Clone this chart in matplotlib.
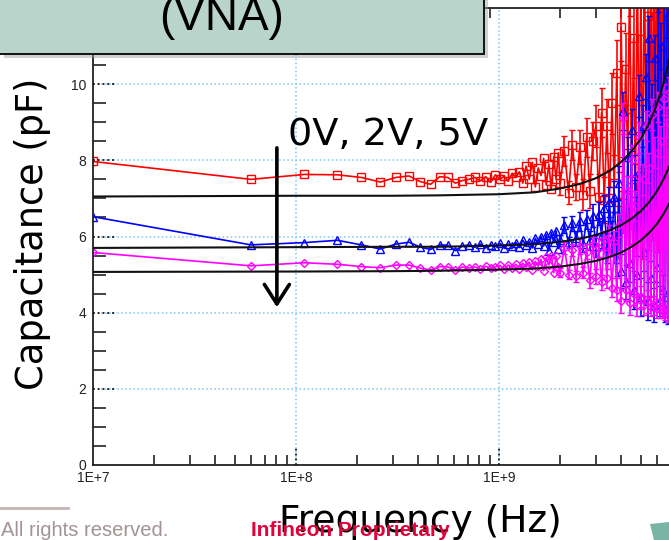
import numpy as np
import matplotlib
matplotlib.use('Agg')
import matplotlib.pyplot as plt
import matplotlib.transforms as mtransforms
from matplotlib.patches import Rectangle, Polygon
from matplotlib.ticker import MultipleLocator, LogLocator, NullFormatter

# VNA sweep: 50 MHz steps below 2 GHz, 100 MHz steps above (Hz)
freq_lo = np.arange(10, 2000, 50) * 1e6
freq_hi = np.arange(2000, 7000, 100) * 1e6
freq = np.concatenate([freq_lo, freq_hi])

# measured capacitance (pF), 0V / 2V / 5V
cap_0v = [7.97, 7.50, 7.63, 7.62, 7.55, 7.43, 7.55, 7.59, 7.44, 7.37,
          7.57, 7.55, 7.40, 7.47, 7.50, 7.55, 7.46, 7.57, 7.42, 7.62,
          7.50, 7.58, 7.45, 7.66, 7.55, 7.70, 7.40, 7.85, 7.50, 7.95,
          7.30, 7.80, 7.60, 8.05, 7.35, 7.90, 7.25, 8.10, 7.50, 8.20,
          7.40, 8.25, 7.15, 8.40, 7.30, 8.35, 7.10, 8.60, 7.20, 8.50,
          8.90, 7.05, 9.25, 6.95, 8.90, 7.00, 9.50, 7.40, 10.30, 6.90,
          11.50, 7.10, 10.40, 8.20, 12.80, 7.30, 11.20, 6.80, 13.50, 7.60,
          12.40, 6.60, 14.00, 7.80, 11.80, 6.90, 15.00, 7.20, 13.20, 8.00,
          16.00, 7.00, 14.50, 8.40, 17.00, 7.60, 15.50, 8.80, 18.00, 9.00]
cap_2v = [6.52, 5.78, 5.84, 5.90, 5.78, 5.67, 5.80, 5.85, 5.72, 5.66,
          5.78, 5.77, 5.63, 5.75, 5.78, 5.72, 5.80, 5.70, 5.78, 5.74,
          5.82, 5.70, 5.80, 5.75, 5.84, 5.72, 5.90, 5.78, 5.86, 5.70,
          5.95, 5.80, 6.00, 5.75, 6.05, 5.62, 6.10, 5.85, 6.15, 5.68,
          5.90, 6.30, 5.85, 6.35, 5.95, 6.40, 5.80, 6.45, 5.90, 6.55,
          5.75, 6.60, 6.05, 6.75, 5.70, 6.90, 5.95, 7.05, 5.40, 7.40,
          5.10, 9.30, 4.80, 8.10, 5.30, 8.80, 4.60, 7.60, 5.00, 9.70,
          4.40, 8.90, 5.60, 10.20, 4.30, 11.20, 4.90, 9.40, 4.20, 10.70,
          5.20, 12.50, 4.30, 11.00, 4.60, 13.00, 4.10, 11.80, 4.00, 13.50]
cap_5v = [5.58, 5.23, 5.31, 5.27, 5.21, 5.18, 5.25, 5.25, 5.17, 5.12,
          5.21, 5.20, 5.12, 5.20, 5.17, 5.20, 5.15, 5.22, 5.16, 5.20,
          5.24, 5.15, 5.25, 5.18, 5.27, 5.14, 5.30, 5.20, 5.33, 5.12,
          5.35, 5.22, 5.40, 5.10, 5.45, 5.25, 5.50, 5.05, 5.48, 5.20,
          5.05, 5.70, 5.00, 5.65, 4.95, 5.75, 5.05, 5.60, 4.85, 5.80,
          4.95, 5.70, 4.80, 5.90, 4.90, 6.00, 4.65, 5.85, 4.60, 6.30,
          4.30, 9.10, 4.60, 7.20, 4.25, 8.00, 4.50, 6.80, 4.20, 8.60,
          4.40, 7.50, 4.20, 8.90, 4.30, 7.80, 4.15, 9.20, 4.20, 8.20,
          4.10, 9.40, 4.10, 8.50, 4.05, 9.60, 4.00, 9.00, 3.95, 9.80]

# error bars on the >= 2 GHz points (pF)
err_0v = [0.30, 0.40, 0.30, 0.40, 0.35, 0.45, 0.40, 0.50, 0.45, 0.50,
          0.55, 0.60, 0.65, 0.60, 0.70, 0.75, 0.80, 0.75, 0.85, 0.80,
          0.90, 1.00, 0.95, 1.05, 1.00, 1.10, 1.05, 1.10, 1.00, 1.15,
          1.10, 1.20, 1.15, 1.20, 1.10, 1.25, 1.20, 1.30, 1.20, 1.30,
          1.25, 1.35, 1.30, 1.35, 1.30, 1.40, 1.35, 1.40, 1.35, 1.45]
err_2v = [0.15, 0.20, 0.15, 0.20, 0.20, 0.25, 0.20, 0.25, 0.25, 0.30,
          0.30, 0.30, 0.35, 0.35, 0.40, 0.40, 0.45, 0.40, 0.45, 0.45,
          0.45, 0.50, 0.45, 0.50, 0.50, 0.55, 0.50, 0.55, 0.50, 0.55,
          0.50, 0.55, 0.50, 0.60, 0.50, 0.60, 0.45, 0.60, 0.45, 0.60,
          0.40, 0.60, 0.40, 0.60, 0.40, 0.60, 0.35, 0.60, 0.30, 0.60]
err_5v = [0.12, 0.15, 0.12, 0.15, 0.15, 0.20, 0.15, 0.20, 0.20, 0.20,
          0.20, 0.25, 0.20, 0.25, 0.25, 0.30, 0.25, 0.30, 0.30, 0.30,
          0.30, 0.40, 0.30, 0.40, 0.30, 0.40, 0.30, 0.40, 0.30, 0.40,
          0.30, 0.40, 0.25, 0.40, 0.30, 0.40, 0.25, 0.40, 0.25, 0.40,
          0.25, 0.40, 0.25, 0.40, 0.20, 0.40, 0.20, 0.40, 0.20, 0.40]

# model curves (black)
model_freq = np.array([10, 100, 300, 500, 1000, 1500, 2000, 2500, 3000, 3500,
                       4000, 4500, 5000, 5500, 6000, 6500, 6900]) * 1e6
model_0v = [7.05, 7.07, 7.07, 7.08, 7.11, 7.16, 7.26, 7.38, 7.53, 7.72,
            7.96, 8.24, 8.57, 8.98, 9.48, 10.07, 10.65]
model_2v = [5.70, 5.72, 5.73, 5.73, 5.76, 5.80, 5.86, 5.94, 6.04, 6.16,
            6.30, 6.47, 6.67, 6.91, 7.19, 7.53, 7.84]
model_5v = [5.07, 5.08, 5.09, 5.10, 5.13, 5.16, 5.21, 5.28, 5.36, 5.46,
            5.58, 5.73, 5.90, 6.10, 6.33, 6.61, 6.87]

W, H = 669, 540
fig = plt.figure(figsize=(W / 100, H / 100), dpi=100)
ax = fig.add_axes([93 / W, 75 / H, 609 / W, 457 / H])

n_lo = len(freq_lo)
series = [(cap_0v, err_0v, '#ff0000', 's', 6),
          (cap_2v, err_2v, '#0000ff', '^', 6),
          (cap_5v, err_5v, '#ff00ff', 'D', 4.5)]
for vals, err, col, mk, ms in series:
    ax.errorbar(freq_hi, vals[n_lo:], yerr=err, fmt='none', ecolor=col,
                elinewidth=1.2, capsize=2)
    ax.plot(freq, vals, color=col, lw=1.2, marker=mk, ms=ms, mfc='none', mew=1.0)
for m in (model_0v, model_2v, model_5v):
    ax.plot(model_freq, m, color='#111111', lw=1.5, zorder=5)

ax.set_xscale('log')
ax.set_xlim(1e7, 1e10)
ax.set_ylim(0, 12)

ax.set_xticks([1e7, 1e8, 1e9], labels=['1E+7', '1E+8', '1E+9'])
ax.xaxis.set_minor_locator(LogLocator(base=10, subs=np.arange(2, 10)))
ax.xaxis.set_minor_formatter(NullFormatter())
ax.set_yticks(range(0, 13, 2))
ax.yaxis.set_minor_locator(MultipleLocator(0.5))
ax.tick_params(which='major', length=0, labelsize=10, colors='#222222', pad=5)
ax.tick_params(axis='x', which='major', pad=4)
ax.tick_params(which='minor', direction='in', color='#222222', width=1.2)
ax.tick_params(axis='y', which='minor', length=9, right=False)
ax.tick_params(axis='x', which='minor', length=7, top=True)
for lab in ax.get_xticklabels() + ax.get_yticklabels():
    lab.set_family('Liberation Sans')

ax.grid(which='major', color='#7cc6f0', linestyle=':', linewidth=1.1)
for s in ax.spines.values():
    s.set_linewidth(1.3)
    s.set_color('#222222')

# dotted major tick stubs
ty = mtransforms.blended_transform_factory(ax.transAxes, ax.transData)
for yv in range(2, 12, 2):
    ax.plot([0, 0.04], [yv, yv], transform=ty, color='#111111', ls=':', lw=1.3, zorder=4)
tx = mtransforms.blended_transform_factory(ax.transData, ax.transAxes)
for xv in (1e8, 1e9):
    ax.plot([xv, xv], [0, 0.04], transform=tx, color='#111111', ls=':', lw=1.3, zorder=4)

# bias arrow and label
ax.annotate('', xy=(8.05e7, 4.07), xytext=(8.05e7, 8.40),
            arrowprops=dict(arrowstyle='->,head_length=0.7,head_width=0.45',
                            lw=2.6, color='black', mutation_scale=20), zorder=6)
fig.text(288 / W, 1 - 145 / H, '0V, 2V, 5V', fontsize=27.5, ha='left', va='baseline',
         family='DejaVu Sans', zorder=7)

fig.text(33 / W, 1 - 234 / H, 'Capacitance (pF)', fontsize=26.5, rotation=90,
         ha='center', va='center', family='DejaVu Sans')
fig.text(420 / W, 1 - 532 / H, 'Frequency (Hz)', fontsize=27, ha='center', va='baseline',
         family='DejaVu Sans', zorder=8)

# slide decorations
fig.add_artist(Rectangle((4 / W, 1 - 58 / H), 484 / W, 58 / H, transform=fig.transFigure,
                         facecolor='#9a9a9a', edgecolor='none', alpha=0.45, zorder=9))
fig.add_artist(Rectangle((-2 / W, 1 - 54 / H), 486 / W, 60 / H, transform=fig.transFigure,
                         facecolor='#b8d4cb', edgecolor='#111111', lw=1.4, zorder=10))
fig.text(222 / W, 1 - 30 / H, '(VNA)', fontsize=33, ha='center', va='baseline',
         family='Liberation Sans', zorder=11)
fig.add_artist(plt.Line2D([0, 68 / W], [1 - 508 / H, 1 - 508 / H], transform=fig.transFigure,
                          color='#c4b4b4', lw=2, zorder=9))
fig.text(168 / W, 1 - 536 / H, 'All rights reserved.', fontsize=14.5, ha='right',
         va='baseline', color='#a09494', family='Liberation Sans', zorder=9)
fig.text(350 / W, 1 - 536 / H, 'Infineon Proprietary', fontsize=15, ha='center',
         va='baseline', color='#e2003a', fontweight='bold', family='Liberation Sans', zorder=12)
fig.add_artist(Polygon([(650 / W, 1 - 524 / H), (669 / W, 1 - 522 / H),
                        (669 / W, 0), (654 / W, 0)], closed=True, transform=fig.transFigure,
                       facecolor='#7ab4a4', edgecolor='none', zorder=9))

fig.savefig('out.png', dpi=100)
